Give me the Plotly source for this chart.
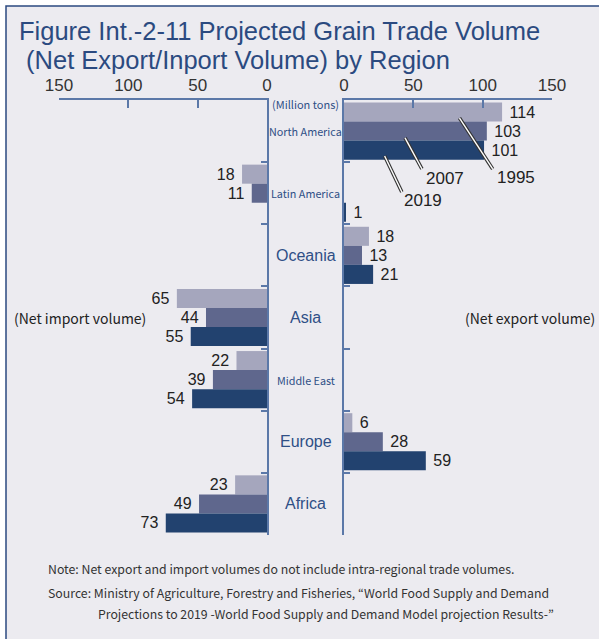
import plotly.graph_objects as go

# Regions, top to bottom
regions = ["North America", "Latin America", "Oceania", "Asia",
           "Middle East", "Europe", "Africa"]
years = ["1995", "2007", "2019"]

# Net trade volume (million tons): positive = net export, negative = net import
net_1995 = [114, -18, 18, -65, -22, 6, -23]
net_2007 = [103, -11, 13, -44, -39, 28, -49]
net_2019 = [101, 1, 21, -55, -54, 59, -73]

tick_vals = [0, 50, 100, 150]

bar_colors = {"1995": "#A5A6BD", "2007": "#5F678D", "2019": "#22426F"}
axis_color = "#5B78A8"
label_blue = "#2F4F86"
text_dark = "#222222"
frame_color = "#2B4A80"
panel_bg = "#ECEBF0"

W, H = 599, 639


def px_x(p):
    return p / W


def px_y(p):
    return 1 - p / H


NARROW = "Noto Sans CJK JP, Liberation Sans, sans-serif"
SANS = "Liberation Sans, Arial, sans-serif"

fig = go.Figure()

series = {"1995": net_1995, "2007": net_2007, "2019": net_2019}
for yr in years:
    vals = series[yr]
    imports = [-v if v < 0 else None for v in vals]
    exports = [v if v > 0 else None for v in vals]
    common = dict(
        y=regions, orientation="h", name=yr, showlegend=False,
        marker=dict(color=bar_colors[yr], line=dict(width=0)),
        textposition="outside", constraintext="none",
        textfont=dict(family=SANS, size=16, color=text_dark),
        cliponaxis=False, hoverinfo="skip",
    )
    fig.add_trace(go.Bar(x=imports, xaxis="x", yaxis="y",
                         texttemplate="%{x}\u00a0", **common))
    fig.add_trace(go.Bar(x=exports, xaxis="x2", yaxis="y2",
                         texttemplate="\u00a0%{x}", **common))

axis_common = dict(
    showline=True, linecolor=axis_color, linewidth=1.5,
    ticks="inside", ticklen=8, tickcolor=axis_color, tickwidth=1.5,
    tickvals=tick_vals, showgrid=False, zeroline=False, side="top",
    tickfont=dict(family=SANS, size=17, color="#333333"),
    fixedrange=True,
)
yaxis_common = dict(
    type="category", categoryorder="array", categoryarray=regions,
    autorange="reversed", showline=True, linecolor=axis_color, linewidth=1.5,
    ticks="inside", ticklen=6, tickcolor=axis_color, tickwidth=1.5,
    tickson="boundaries", showticklabels=False, showgrid=False,
    zeroline=False, domain=[px_y(535), px_y(100)], fixedrange=True,
)

fig.update_layout(
    width=W, height=H,
    margin=dict(l=0, r=0, t=0, b=0, autoexpand=False),
    paper_bgcolor="white", plot_bgcolor="rgba(0,0,0,0)",
    barmode="group", bargap=0.08, bargroupgap=0,
    xaxis=dict(domain=[px_x(59), px_x(267)], range=[150, 0], anchor="y",
               **axis_common),
    xaxis2=dict(domain=[px_x(344), px_x(552)], range=[0, 150], anchor="y2",
                **axis_common),
    yaxis=dict(anchor="x", side="right", **yaxis_common),
    yaxis2=dict(anchor="x2", side="left", matches="y", **yaxis_common),
)

# Framed panel background (top and left edges visible)
fig.add_shape(type="rect", xref="paper", yref="paper",
              x0=px_x(6), x1=1.05, y0=-0.05, y1=px_y(6),
              fillcolor=panel_bg, line=dict(color=frame_color, width=1.5),
              layer="below")

# Title (two lines)
fig.add_annotation(xref="paper", yref="paper", x=px_x(18), y=px_y(31),
                   xanchor="left", yanchor="middle", showarrow=False,
                   borderpad=0,
                   text="Figure Int.-2-11 Projected Grain Trade Volume",
                   font=dict(family=SANS, size=25.5, color=frame_color))
fig.add_annotation(xref="paper", yref="paper", x=px_x(18), y=px_y(59.5),
                   xanchor="left", yanchor="middle", showarrow=False,
                   borderpad=0,
                   text="\u00a0(Net Export/Inport Volume) by Region",
                   font=dict(family=SANS, size=25.5, color=frame_color))

# Region labels between the two panels
narrow_names = {"North America", "Latin America", "Middle East"}
for r in regions:
    if r in narrow_names:
        f = dict(family=NARROW, size=10.8, color=label_blue)
    else:
        f = dict(family=SANS, size=16, color=label_blue)
    fig.add_annotation(xref="paper", yref="y", x=px_x(305.5), y=r,
                       xanchor="center", yanchor="middle", showarrow=False,
                       text=r, font=f)

fig.add_annotation(xref="paper", yref="paper", x=px_x(305.5), y=px_y(104),
                   xanchor="center", yanchor="middle", showarrow=False,
                   text="(Million tons)",
                   font=dict(family=NARROW, size=11, color=label_blue))

# Side captions
fig.add_annotation(xref="paper", yref="paper", x=px_x(12), y=px_y(318),
                   xanchor="left", yanchor="middle", showarrow=False,
                   text="(Net import volume)",
                   font=dict(family=NARROW, size=14, color=text_dark))
fig.add_annotation(xref="paper", yref="paper", x=px_x(597), y=px_y(318),
                   xanchor="right", yanchor="middle", showarrow=False,
                   text="(Net export volume)",
                   font=dict(family=NARROW, size=14, color=text_dark))

# Year call-outs with double leader lines (drawn on the export panel)
callouts = [
    # year, line start (x, y index), line end, label position
    ("1995", (83.3, -0.21), (107.2, 0.61), (124.0, 0.75)),
    ("2007", (44.0, 0.11), (56.2, 0.61), (72.8, 0.77)),
    ("2019", (29.3, 0.40), (41.7, 0.98), (57.0, 1.12)),
]
for yr, (sx, sy), (ex, ey), (lx, ly) in callouts:
    for width, col in ((3.6, "#333333"), (1.4, "white")):
        fig.add_shape(type="line", xref="x2", yref="y2",
                      x0=sx, y0=sy, x1=ex, y1=ey,
                      line=dict(color=col, width=width), layer="above")
    fig.add_annotation(xref="x2", yref="y2", x=lx, y=ly,
                       xanchor="center", yanchor="middle", showarrow=False,
                       text=yr, font=dict(family=SANS, size=17, color=text_dark))

# Notes
notes = [
    (46, 569, "Note: Net export and import volumes do not include intra-regional trade volumes."),
    (46, 593, "Source: Ministry of Agriculture, Forestry and Fisheries, \u201cWorld Food Supply and Demand"),
    (96, 614, "Projections to 2019 -World Food Supply and Demand Model projection Results-\u201d"),
]
for x, y, t in notes:
    fig.add_annotation(xref="paper", yref="paper", x=px_x(x), y=px_y(y),
                       xanchor="left", yanchor="middle", showarrow=False,
                       text=t, font=dict(family=NARROW, size=12.3, color="#333333"))

fig.write_html("out.html")
